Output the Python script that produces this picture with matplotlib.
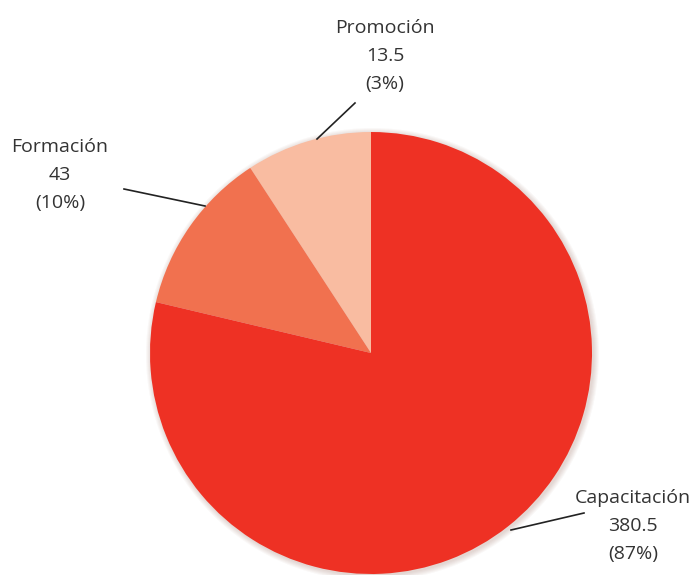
import matplotlib
matplotlib.use("Agg")
import matplotlib.pyplot as plt
from matplotlib.patches import Circle

# Data
categories = ["Promoción", "Formación", "Capacitación"]
values = [13.5, 43, 380.5]
percent_labels = ["3%", "10%", "87%"]
# slice shares as drawn in the reference picture (share of the pie, %)
drawn_shares = [9.2, 12.1, 78.7]
colors = ["#F9BCA1", "#F1714F", "#EE3124"]

W, H = 696, 575
fig = plt.figure(figsize=(W / 100, H / 100), dpi=100)
ax = fig.add_axes([0, 0, 1, 1])
ax.set_xlim(0, W)
ax.set_ylim(0, H)
ax.set_aspect("equal")
ax.axis("off")

cx, cy, r = 371, H - 353, 221

# soft shadow, slightly offset down-right
for i in range(6):
    ax.add_patch(Circle((cx + 1.5, cy - 1.5), r + 0.5 + i * 1.0, color="#7a3a2a",
                        alpha=0.035, lw=0, zorder=0))

ax.pie(drawn_shares, colors=colors, startangle=90, counterclock=True,
       center=(cx, cy), radius=r, frame=True,
       wedgeprops=dict(linewidth=0))
ax.set_xlim(0, W)
ax.set_ylim(0, H)
ax.axis("off")

font = dict(family=["Open Sans", "DejaVu Sans"], fontsize=14, color="#333333",
            ha="center", va="center", linespacing=1.72)

label_pos = [(385, 56), (60, 175), (633, 526)]
leaders = [((355, 103), (317, 139)), ((124, 189), (205, 206)), ((584, 513), (511, 530))]

for cat, val, pct, (lx, ly), (p0, p1) in zip(categories, values, percent_labels, label_pos, leaders):
    vs = f"{val:g}"
    ax.text(lx, H - ly, f"{cat}\n{vs}\n({pct})", **font, zorder=5)
    ax.plot([p0[0], p1[0]], [H - p0[1], H - p1[1]], color="#222222", lw=1.2, zorder=4)

fig.savefig("out.png", dpi=100)
